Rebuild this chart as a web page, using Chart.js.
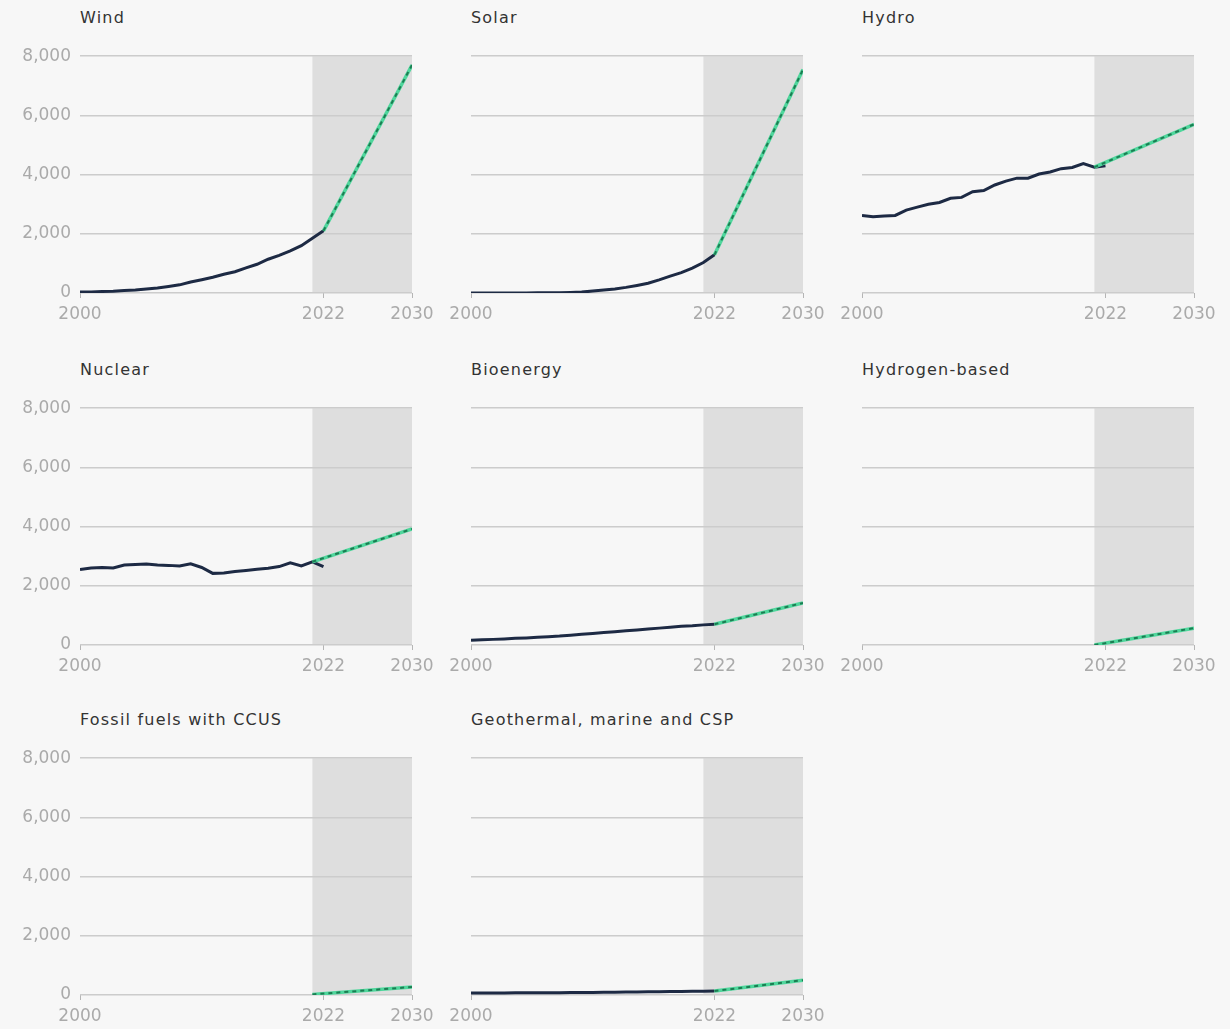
<!DOCTYPE html>
<html>
<head>
<meta charset="utf-8">
<script src="https://cdn.jsdelivr.net/npm/chart.js@4.4.0/dist/chart.umd.min.js"></script>
<style>
  html, body { margin: 0; padding: 0; background: #f7f7f7; }
  #wrap { position: relative; width: 1230px; height: 1029px; overflow: hidden; }
  .panel { position: absolute; width: 422px; height: 296px; }
  .title { position: absolute; font-family: "DejaVu Sans", sans-serif; font-size: 16px; letter-spacing: 1.2px; color: #333; white-space: nowrap; }
</style>
</head>
<body>
<div id="wrap"></div>
<script>
// Generation by technology, TWh
const years = [2000, 2001, 2002, 2003, 2004, 2005, 2006, 2007, 2008, 2009, 2010,
  2011, 2012, 2013, 2014, 2015, 2016, 2017, 2018, 2019, 2020, 2021, 2022];

const windHist = [31, 38, 52, 63, 85, 104, 133, 170, 220, 276, 370, 450, 530, 635, 720, 850, 970, 1140, 1270, 1420, 1600, 1850, 2100];
const solarHist = [1, 2, 2, 3, 4, 4, 6, 8, 12, 20, 32, 64, 100, 139, 190, 256, 330, 445, 570, 690, 840, 1030, 1290];
const hydroHist = [2620, 2580, 2600, 2620, 2800, 2900, 3000, 3060, 3200, 3230, 3420, 3460, 3650, 3780, 3880, 3880, 4020, 4090, 4200, 4240, 4370, 4250, 4300];
const nuclearHist = [2550, 2600, 2620, 2600, 2700, 2720, 2740, 2700, 2690, 2670, 2740, 2620, 2420, 2430, 2480, 2520, 2560, 2590, 2650, 2780, 2670, 2810, 2650];
const bioHist = [160, 175, 190, 205, 225, 240, 260, 280, 300, 330, 360, 390, 420, 450, 480, 510, 540, 570, 600, 630, 650, 680, 700];
const geoHist = [65, 66, 68, 70, 72, 74, 76, 78, 80, 82, 86, 88, 92, 96, 100, 104, 108, 112, 116, 120, 124, 128, 132];

const panelTitles = ['Wind', 'Solar', 'Hydro', 'Nuclear', 'Bioenergy', 'Hydrogen-based',
  'Fossil fuels with CCUS', 'Geothermal, marine and CSP'];
const histSeries = [windHist, solarHist, hydroHist, nuclearHist, bioHist, null, null, geoHist];

// projection: start year -> 2030
const projStartYears = [2022, 2022, 2021, 2021, 2022, 2021, 2021, 2022];
const projEndYear = 2030;
const projSeries = [[2100, 7700], [1290, 7550], [4250, 5700], [2810, 3920],
  [700, 1420], [0, 570], [20, 270], [132, 500]];

const xTicks = [2000, 2022, 2030];
const yTicks = [0, 2000, 4000, 6000, 8000];
const shadeFrom = 2021;

const NAVY = '#1d2a44';
const GREEN_LIGHT = '#4fd69c';
const GREEN_DARK = '#1b7d52';
const TICK_FONT = { family: 'DejaVu Sans', size: 17 };
const TICK_COLOR = '#aaaaaa';

// grey band for the projection period
const shadePlugin = {
  id: 'shade',
  beforeDraw(chart) {
    const { ctx, chartArea, scales } = chart;
    const x0 = scales.x.getPixelForValue(shadeFrom);
    const x1 = scales.x.getPixelForValue(projEndYear);
    ctx.save();
    ctx.fillStyle = '#dedede';
    ctx.fillRect(x0, chartArea.top, x1 - x0, chartArea.bottom - chartArea.top);
    ctx.restore();
  }
};

const wrap = document.getElementById('wrap');

panelTitles.forEach(function (title, i) {
  const col = i % 3;
  const row = Math.floor(i / 3);
  const areaLeft = [80, 471, 862][col];
  const areaTop = [55, 407, 757][row];

  const t = document.createElement('div');
  t.className = 'title';
  t.style.left = areaLeft + 'px';
  t.style.top = (areaTop - 47) + 'px';
  t.textContent = title;
  wrap.appendChild(t);

  const box = document.createElement('div');
  box.className = 'panel';
  box.style.left = (areaLeft - 60) + 'px';
  box.style.top = (areaTop - 18) + 'px';
  const canvas = document.createElement('canvas');
  box.appendChild(canvas);
  wrap.appendChild(box);

  const datasets = [];
  const hist = histSeries[i];
  if (hist) {
    datasets.push({
      data: years.map((y, k) => ({ x: y, y: hist[k] })),
      borderColor: NAVY,
      borderWidth: 3,
      pointRadius: 0,
      order: 3
    });
  }
  const proj = projSeries[i];
  const projPts = [
    { x: projStartYears[i], y: proj[0] },
    { x: projEndYear, y: proj[1] }
  ];
  datasets.push({
    data: projPts,
    borderColor: GREEN_LIGHT,
    borderWidth: 3.5,
    pointRadius: 0,
    order: 2
  });
  datasets.push({
    data: projPts,
    borderColor: GREEN_DARK,
    borderWidth: 2,
    borderDash: [4, 4],
    pointRadius: 0,
    order: 1
  });

  new Chart(canvas.getContext('2d'), {
    type: 'line',
    data: { datasets: datasets },
    options: {
      responsive: true,
      maintainAspectRatio: false,
      animation: false,
      layout: { padding: { top: 4, right: 30, left: 0, bottom: 0 } },
      plugins: { legend: { display: false }, tooltip: { enabled: false } },
      scales: {
        x: {
          type: 'linear',
          min: 2000,
          max: 2030,
          afterBuildTicks: s => { s.ticks = xTicks.map(v => ({ value: v })); },
          afterFit: s => { s.height = 40; },
          ticks: {
            autoSkip: false,
            maxRotation: 0,
            padding: 6,
            color: TICK_COLOR,
            font: TICK_FONT,
            callback: v => String(v)
          },
          grid: { drawOnChartArea: false, drawTicks: true, tickLength: 5, color: '#b5b5b5', lineWidth: 1 },
          border: { display: false }
        },
        y: {
          min: 0,
          max: 8000,
          afterBuildTicks: s => { s.ticks = yTicks.map(v => ({ value: v })); },
          afterFit: s => { s.width = 60; },
          ticks: {
            padding: 9,
            color: col === 0 ? TICK_COLOR : 'rgba(0,0,0,0)',
            font: TICK_FONT
          },
          grid: { color: '#cccccc', lineWidth: 1.5, drawTicks: false },
          border: { display: false }
        }
      }
    },
    plugins: [shadePlugin]
  });
});
</script>
</body>
</html>
